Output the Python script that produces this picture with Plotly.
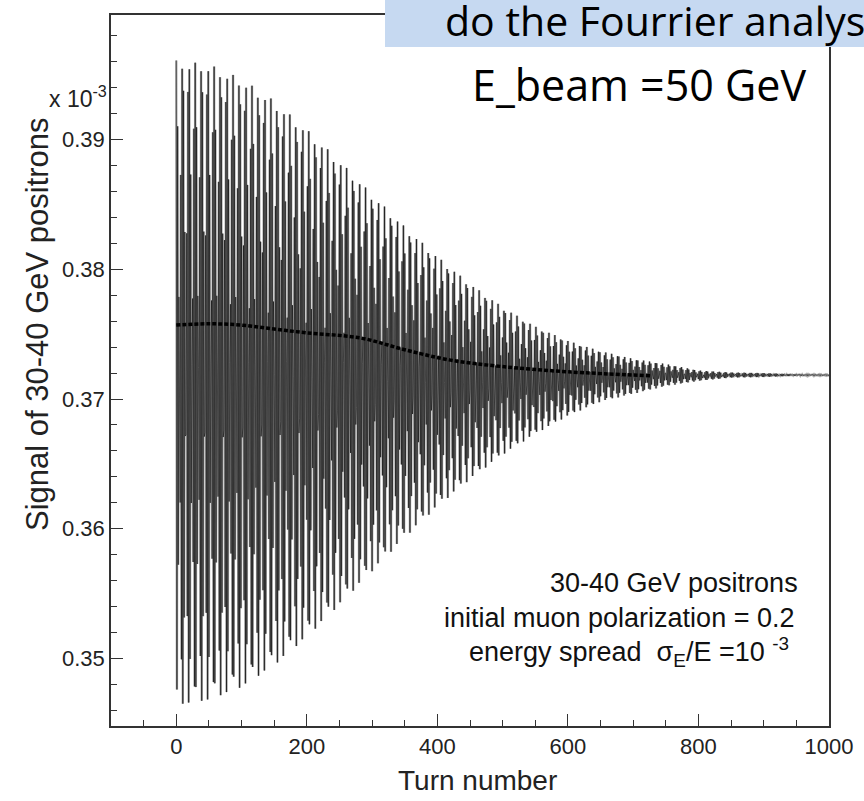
import numpy as np
import plotly.graph_objects as go

# ---- data (signal in units of 1e-3) ----
env_turns = [0, 50, 100, 150, 200, 250, 300, 350, 400, 450, 500,
             550, 600, 650, 700, 750, 800, 850, 900, 950, 1000]
env_upper = [0.3961, 0.3958, 0.3947, 0.3930, 0.3908, 0.3884, 0.3858, 0.3833, 0.3810, 0.3789, 0.3771,
             0.3756, 0.3745, 0.3737, 0.3731, 0.3727, 0.3722, 0.37205, 0.3720, 0.3719, 0.37188]
env_lower = [0.3463, 0.3467, 0.3477, 0.3494, 0.3516, 0.3541, 0.3567, 0.3593, 0.3617, 0.3638, 0.3657,
             0.3673, 0.3687, 0.3698, 0.3704, 0.3710, 0.3714, 0.37165, 0.3717, 0.3718, 0.37182]
band_turns = [0, 50, 100, 150, 200, 283, 350, 420, 500, 600, 726]
band_level = [0.3757, 0.3758, 0.3757, 0.3754, 0.3751, 0.3747, 0.3738, 0.3730, 0.3725, 0.3721, 0.3718]
spin_tune = 0.5517          # precession per turn (a*gamma at 50 GeV)
n_turns = 1000

x_ticks = [0, 200, 400, 600, 800, 1000]
y_ticks = [0.35, 0.36, 0.37, 0.38, 0.39]

turns = np.arange(n_turns + 1)
up = np.interp(turns, env_turns, env_upper)
lo = np.interp(turns, env_turns, env_lower)
signal = 0.5 * (up + lo) + 0.5 * (up - lo) * np.cos(2 * np.pi * spin_tune * turns)

fig = go.Figure()
fig.add_trace(go.Scatter(x=turns, y=signal, mode="lines",
                         line=dict(color="#ababab", width=2.4), showlegend=False))
fig.add_trace(go.Scatter(x=turns, y=signal, mode="lines",
                         line=dict(color="#000000", width=0.55), showlegend=False))
fig.add_trace(go.Scatter(x=band_turns, y=band_level, mode="lines",
                         line=dict(color="black", width=3.5, shape="spline", dash="4px,2px"),
                         showlegend=False))

L, R, T, B = 111, 829, 15, 726
W, H = 864, 801
def px(x): return (x - L) / (R - L)
def py(y): return (B - y) / (B - T)

axis_common = dict(showline=True, linecolor="#333333", linewidth=1.5, mirror=True,
                   showgrid=False, zeroline=False, ticks="inside", tickcolor="#333333",
                   ticklen=12, tickwidth=1.3,
                   tickfont=dict(family="Liberation Sans", size=22, color="#222"))
fig.update_xaxes(range=[-100, 1000], tickvals=x_ticks,
                 minor=dict(dtick=50, ticks="inside", ticklen=6, tickcolor="#333333"),
                 **axis_common)
fig.update_yaxes(range=[0.3448, 0.3996], tickvals=y_ticks, tickformat=".2f",
                 minor=dict(dtick=0.002, ticks="inside", ticklen=6, tickcolor="#333333"),
                 **axis_common)

ann_font = dict(family="Liberation Sans", size=27, color="#111")
def ann(x, y, text, xanchor="center", **kw):
    d = dict(x=px(x), y=py(y), xref="paper", yref="paper", text=text, showarrow=False,
             xanchor=xanchor, yanchor="middle")
    d.update(kw)
    return d

annotations = [
    ann(37, 324, "Signal of 30-40 GeV positrons", textangle=-90,
        font=dict(family="Liberation Sans", size=31, color="#222")),
    ann(109, 97, "x 10<sup>-3</sup>", xanchor="right",
        font=dict(family="Liberation Sans", size=23, color="#222")),
    ann(477, 780, "Turn number",
        font=dict(family="Liberation Sans", size=28, color="#222")),
    ann(800, 583, "30-40 GeV positrons", xanchor="right", font=ann_font),
    ann(796, 618, "initial muon polarization = 0.2", xanchor="right", font=ann_font),
    ann(791, 652, "energy spread  σ<sub>E</sub>/E =10 <sup>-3</sup>", xanchor="right", font=ann_font),
    ann(443, 20, "do the Fourrier analysis", xanchor="left",
        font=dict(family="Open Sans", size=41, color="black")),
    ann(470, 85, "E_beam =50 GeV", xanchor="left",
        font=dict(family="Open Sans", size=43, color="black")),
]

fig.update_layout(
    width=W, height=H,
    margin=dict(l=L, r=W - R, t=T, b=H - B),
    plot_bgcolor="white", paper_bgcolor="white",
    annotations=annotations,
    shapes=[dict(type="rect", xref="paper", yref="paper",
                 x0=px(385), x1=px(880), y0=py(47), y1=py(-10),
                 fillcolor="#c6d9f1", line=dict(width=0), layer="above")],
)
fig.write_html("out.html")
